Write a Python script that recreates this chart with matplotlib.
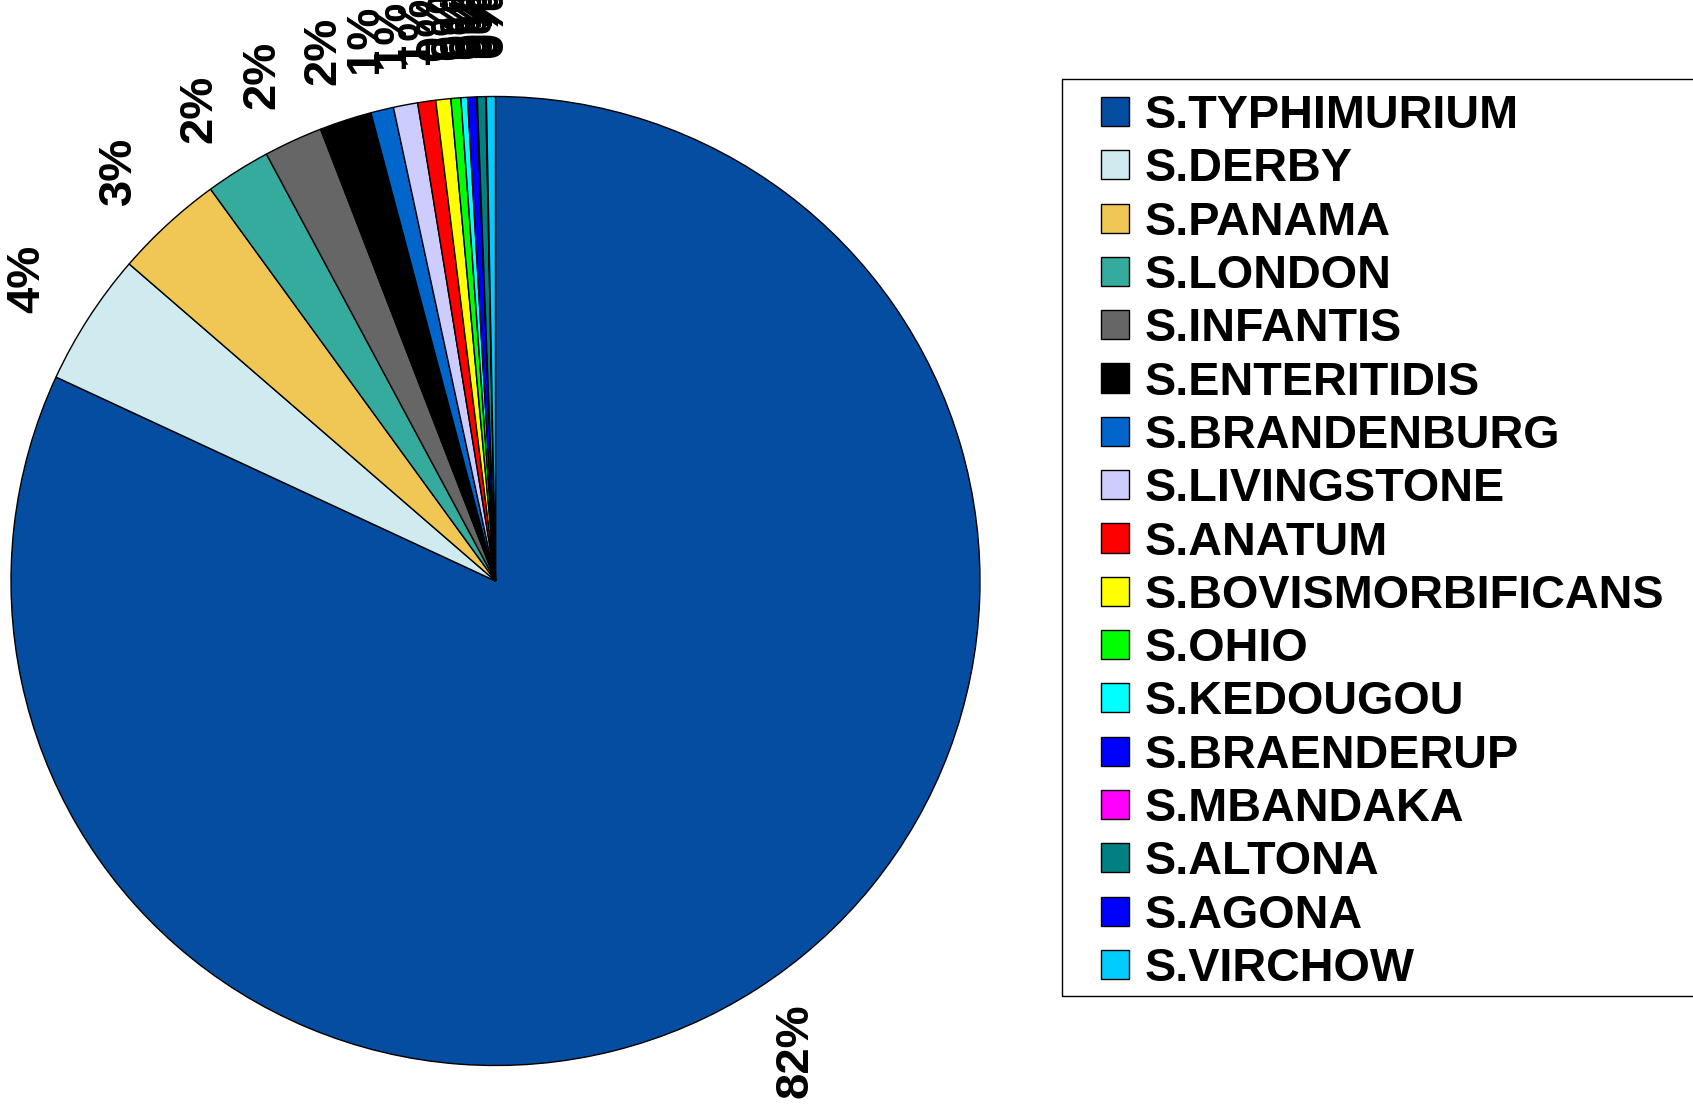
import matplotlib
matplotlib.use("Agg")
import matplotlib.pyplot as plt
from matplotlib.patches import Rectangle
import numpy as np

plt.rcParams['font.family'] = ['Liberation Sans', 'DejaVu Sans']

categories = ["S.TYPHIMURIUM", "S.DERBY", "S.PANAMA", "S.LONDON", "S.INFANTIS",
              "S.ENTERITIDIS", "S.BRANDENBURG", "S.LIVINGSTONE", "S.ANATUM",
              "S.BOVISMORBIFICANS", "S.OHIO", "S.KEDOUGOU", "S.BRAENDERUP",
              "S.MBANDAKA", "S.ALTONA", "S.AGONA", "S.VIRCHOW"]
values = [81.94, 4.44, 3.64, 2.17, 1.96, 1.74, 0.76, 0.81, 0.60, 0.50, 0.33,
          0.22, 0.30, 0.02, 0.28, 0.02, 0.30]
pct_labels = ["82%", "4%", "3%", "2%", "2%", "2%", "1%", "1%", "1%", "0%", "0%",
              "0%", "0%", "0%", "0%", "0%", "0%"]
colors = ["#054DA0", "#D0EBF0", "#F0C655", "#35AB9E", "#666666", "#000000",
          "#0066CC", "#CCCCFF", "#FF0000", "#FFFF00", "#00FF00", "#00FFFF",
          "#0000FF", "#FF00FF", "#008080", "#0000FF", "#00CCFF"]

W, H = 1693, 1109
fig = plt.figure(figsize=(W / 100, H / 100), dpi=100)
ax = fig.add_axes([11 / W, 1 - 1067 / H, 969 / W, 972 / H])

wedges, _ = ax.pie(values, colors=colors, startangle=90, counterclock=False,
                   radius=1.0, wedgeprops=dict(edgecolor="black", linewidth=1.0))
ax.set_xlim(-1.0, 1.0)
ax.set_ylim(-1.0, 1.0)
ax.set_aspect("equal")
ax.axis("on")
ax.set_xticks([])
ax.set_yticks([])
for s in ax.spines.values():
    s.set_visible(True)
    s.set_color("black")
    s.set_linewidth(1.0)

for w, lab in zip(wedges, pct_labels):
    ang = np.deg2rad((w.theta1 + w.theta2) / 2)
    r = 1.15
    ax.text(r * np.cos(ang), r * np.sin(ang), lab, rotation=90,
            ha="center", va="center", fontsize=34, fontweight="bold",
            clip_on=False, zorder=5)

# legend frame (extends past the right edge as in the reference)
frame = Rectangle((1062 / W, 1 - 996 / H), 0.5, (996 - 79) / H,
                  transform=fig.transFigure, facecolor="none",
                  edgecolor="black", linewidth=1.0)
fig.patches.append(frame)

leg = fig.legend(wedges, categories, loc="upper left",
                 bbox_to_anchor=(1101 / W, 1 - 94 / H),
                 prop=dict(weight="bold", size=33.7),
                 frameon=False,
                 handlelength=0.6, handleheight=0.58, handletextpad=0.34,
                 labelspacing=0.199, borderpad=0.0, borderaxespad=0)

fig.savefig("out.png", dpi=100)
